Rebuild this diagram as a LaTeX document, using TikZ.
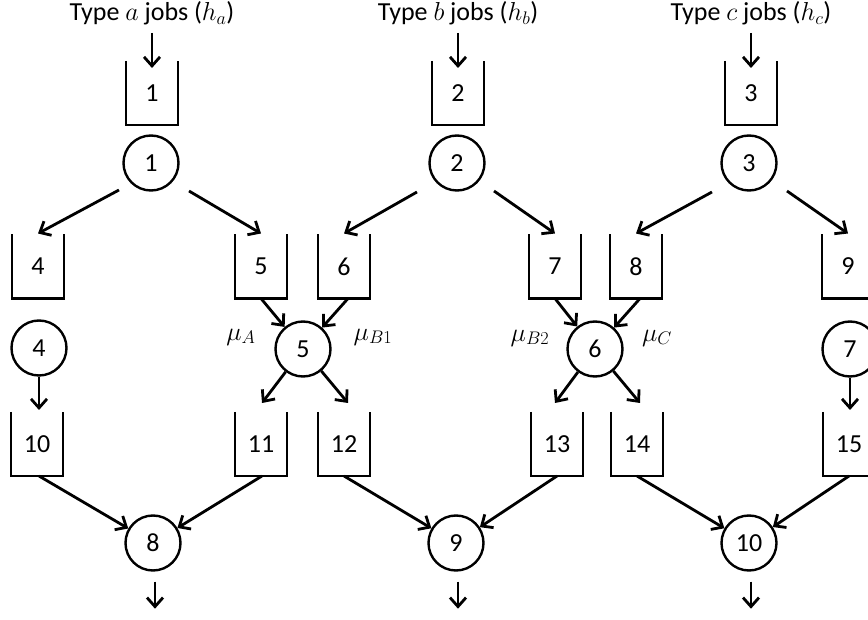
\RequirePackage{fix-cm}
\documentclass[tikz,border=0pt]{standalone}
\usepackage{fontspec}
\setmainfont{Carlito}
\usetikzlibrary{arrows.meta}
\begin{document}
\begin{tikzpicture}[x=1pt,y=-1pt,
  font=\fontsize{26}{30}\selectfont,
  lw/.style={line width=2.8pt},
  arr/.style={lw,-{Straight Barb[length=9pt,width=16pt,line width=2.8pt]}},
  queue/.style={minimum width=52pt,minimum height=64pt,inner sep=0pt,outer sep=0pt},
  srv/.style={circle,draw,line width=2.4pt,minimum size=55pt,inner sep=0pt},
  ttl/.style={anchor=base,inner sep=0pt,font=\fontsize{26}{30}\selectfont},
  mu/.style={inner sep=0pt}]
\useasboundingbox (0,0) rectangle (868,620);
% titles
\node[ttl] (ta) at (152,21) {Type $a$ jobs ($h_a$)};
\node[ttl] (tb) at (458,21) {Type $b$ jobs ($h_b$)};
\node[ttl] (tc) at (751,21) {Type $c$ jobs ($h_c$)};
% queues
\foreach \n/\x/\y in {1/152/93,2/458/93,3/751/93,
  4/38/266.5,5/261/266.5,6/344/266.5,7/555/266.5,8/636/266.5,9/848/266.5,
  10/37/444,11/261/444,12/344/444,13/557/444,14/637/444,15/849/444}{
  \node[queue] (q\n) at (\x,\y) {\n};
  \draw[lw,line join=miter] (q\n.north west) -- (q\n.south west) -- (q\n.south east) -- (q\n.north east);
}
% servers
\foreach \n/\x/\y in {1/151/163,2/457/163,3/749/163,
  4/39/348,5/303/349,6/595/349,7/850/349,
  8/153/543,9/456/543,10/749/543}{
  \node[srv] (c\n) at (\x,\y) {\n};
}
% rate labels
\node[mu] (ma) at (241,337) {$\mu_A$};
\node[mu] (mb1) at (373,337) {$\mu_{B1}$};
\node[mu] (mb2) at (530,338) {$\mu_{B2}$};
\node[mu] (mc) at (657,338) {$\mu_C$};
% inputs
\foreach \n in {1,2,3}{
  \draw[arr] ([yshift=28pt]q\n.north) -- ([yshift=-7pt]q\n.north);
}
% top splits
\draw[arr] ([xshift=-32pt,yshift=-27pt]c1.center) -- ([yshift=1pt]q4.north);
\draw[arr] ([xshift=38pt,yshift=-28pt]c1.center) -- ([yshift=1pt]q5.north);
\draw[arr] ([xshift=-40pt,yshift=-29pt]c2.center) -- ([yshift=1pt]q6.north);
\draw[arr] ([xshift=37pt,yshift=-28pt]c2.center) -- ([yshift=1pt]q7.north);
\draw[arr] ([xshift=-37pt,yshift=-29pt]c3.center) -- ([yshift=1pt]q8.north);
\draw[arr] ([xshift=38pt,yshift=-28pt]c3.center) -- ([yshift=1pt]q9.north);
% into middle servers
\draw[arr] (q5.south) -- (c5);
\draw[arr] ([xshift=4pt]q6.south) -- (c5);
\draw[arr] (q7.south) -- (c6);
\draw[arr] ([xshift=4pt]q8.south) -- (c6);
% out of middle servers
\draw[arr,shorten >=2pt] (c4.south) -- (c4.south |- q10.north);
\draw[arr,shorten >=2pt] (c7.south) -- (c7.south |- q15.north);
\draw[arr] (c5) -- ([xshift=1pt,yshift=9pt]q11.north);
\draw[arr] (c5) -- ([xshift=4pt,yshift=9pt]q12.north);
\draw[arr] (c6) -- ([xshift=-2pt,yshift=9pt]q13.north);
\draw[arr] (c6) -- ([xshift=3pt,yshift=9pt]q14.north);
% into bottom servers
\draw[arr] ([xshift=2pt]q10.south) -- (c8);
\draw[arr] ([xshift=1pt]q11.south) -- (c8);
\draw[arr] (q12.south) -- (c9);
\draw[arr] (q13.south) -- (c9);
\draw[arr] (q14.south) -- (c10);
\draw[arr] (q15.south) -- (c10);
% outputs
\foreach \n in {8,9,10}{
  \draw[arr] ([xshift=2pt,yshift=-10pt]c\n.south) -- ([xshift=2pt,yshift=-37pt]c\n.south);
}
\end{tikzpicture}
\end{document}
